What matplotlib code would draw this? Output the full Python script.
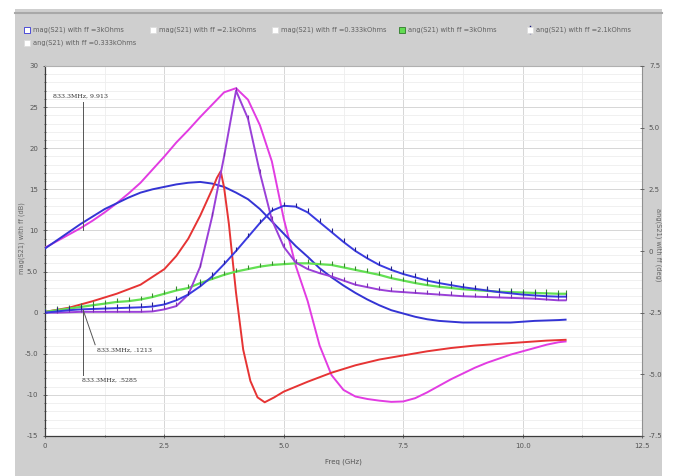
import numpy as np
import matplotlib.pyplot as plt
from matplotlib.patches import Rectangle
from matplotlib.ticker import MultipleLocator
from matplotlib.lines import Line2D

# sweep grid (GHz)
freq = [0.0, 0.25, 0.5, 0.75, 1.0, 1.25, 1.5, 1.75, 2.0, 2.25, 2.5, 2.75,
        3.0, 3.25, 3.5, 3.75, 4.0, 4.25, 4.5, 4.75, 5.0, 5.25, 5.5, 5.75,
        6.0, 6.25, 6.5, 6.75, 7.0, 7.25, 7.5, 7.75, 8.0, 8.25, 8.5, 8.75,
        9.0, 9.25, 9.5, 9.75, 10.0, 10.25, 10.5, 10.75, 10.9]

pink = [7.9, 8.7, 9.5, 10.3, 11.2, 12.2, 13.3, 14.5, 15.8, 17.4, 19.0, 20.7,
        22.2, 23.8, 25.3, 26.8, 27.3, 25.9, 22.8, 18.4, 11.4, 5.7, 1.4, -4.0,
        -7.6, -9.4, -10.2, -10.5, -10.7, -10.85, -10.8, -10.4, -9.7, -8.9, -8.1, -7.4,
        -6.7, -6.1, -5.6, -5.1, -4.7, -4.3, -3.9, -3.6, -3.5]

blue_hump = [7.8, 8.8, 9.8, 10.8, 11.7, 12.6, 13.3, 14.0, 14.6, 15.0, 15.3, 15.6,
             15.8, 15.9, 15.7, 15.3, 14.6, 13.8, 12.6, 11.1, 9.6, 8.1, 6.8, 5.4,
             4.3, 3.3, 2.4, 1.6, 0.9, 0.3, -0.1, -0.5, -0.8, -1.0, -1.1, -1.2,
             -1.2, -1.2, -1.2, -1.2, -1.1, -1.0, -0.95, -0.9, -0.85]

purple = [0.0, 0.0, 0.05, 0.1, 0.1, 0.1, 0.1, 0.1, 0.1, 0.15, 0.4, 0.8,
          2.2, 5.6, 11.7, 19.0, 27.0, 23.6, 17.0, 11.3, 8.0, 6.1, 5.3, 4.8,
          4.4, 3.9, 3.4, 3.1, 2.8, 2.6, 2.5, 2.4, 2.3, 2.2, 2.1, 2.0,
          1.95, 1.9, 1.85, 1.8, 1.75, 1.7, 1.6, 1.5, 1.5]

blue_tick = [0.0, 0.15, 0.3, 0.4, 0.45, 0.5, 0.55, 0.6, 0.65, 0.75, 1.0, 1.5,
             2.2, 3.2, 4.4, 5.9, 7.5, 9.2, 10.9, 12.4, 13.0, 12.9, 12.2, 11.0,
             9.8, 8.6, 7.5, 6.6, 5.8, 5.2, 4.7, 4.3, 3.9, 3.6, 3.35, 3.1,
             2.9, 2.7, 2.5, 2.35, 2.2, 2.1, 2.0, 1.95, 1.95]

green = [0.1, 0.3, 0.5, 0.7, 0.9, 1.1, 1.3, 1.4, 1.6, 1.9, 2.3, 2.7,
         3.0, 3.6, 4.1, 4.6, 5.0, 5.3, 5.6, 5.8, 5.9, 6.0, 6.0, 5.9,
         5.8, 5.5, 5.2, 4.9, 4.6, 4.2, 3.9, 3.6, 3.35, 3.15, 3.0, 2.85,
         2.75, 2.65, 2.55, 2.5, 2.45, 2.4, 2.35, 2.3, 2.3]

red_freq = [0.0, 0.5, 1.0, 1.5, 2.0, 2.5, 2.75, 3.0, 3.25, 3.5, 3.6, 3.68,
            3.75, 3.85, 4.0, 4.15, 4.3, 4.45, 4.6, 4.8, 5.0, 5.5, 6.0, 6.5,
            7.0, 7.5, 8.0, 8.5, 9.0, 9.5, 10.0, 10.5, 10.9]
red = [0.1, 0.6, 1.4, 2.3, 3.4, 5.3, 6.9, 9.0, 11.8, 15.0, 16.4, 17.2,
       15.2, 10.8, 2.4, -4.5, -8.3, -10.3, -10.9, -10.3, -9.6, -8.4, -7.3, -6.4,
       -5.7, -5.2, -4.7, -4.3, -4.0, -3.8, -3.6, -3.4, -3.3]

legend_labels = ["mag(S21) with ff =3kOhms", "mag(S21) with ff =2.1kOhms",
                 "mag(S21) with ff =0.333kOhms", "ang(S21) with ff =3kOhms",
                 "ang(S21) with ff =2.1kOhms", "ang(S21) with ff =0.333kOhms"]

left_ticks = [30, 25, 20, 15, 10, 5, 0, -5, -10, -15]
left_labels = ["30", "25", "20", "15", "10", "5.0", "0", "-5.0", "-10", "-15"]
right_ticks = [7.5, 5.0, 2.5, 0, -2.5, -5.0, -7.5]
right_labels = ["7.5", "5.0", "2.5", "0", "-2.5", "-5.0", "-7.5"]
x_ticks = [0, 2.5, 5.0, 7.5, 10.0, 12.5]
x_labels = ["0", "2.5", "5.0", "7.5", "10.0", "12.5"]

W, H = 677, 476
fig = plt.figure(figsize=(W / 100, H / 100), dpi=100, facecolor="white")
fig.patches.append(Rectangle((15 / W, 0), 647 / W, 1 - 9 / H, transform=fig.transFigure,
                             facecolor="#cfcfcf", edgecolor="none", zorder=-5))
fig.add_artist(Line2D([15 / W, 662 / W], [1 - 13 / H, 1 - 13 / H], color="#a8a8a8", lw=1.5))

ax = fig.add_axes([45 / W, 1 - 436 / H, 597 / W, 370 / H])
ax.set_facecolor("white")

lw = 1.4
ax.plot(freq, pink, color="#e23ce2", lw=lw, zorder=3)
ax.plot(freq, blue_hump, color="#3434d4", lw=lw, zorder=3)
ax.plot(red_freq, red, color="#e63434", lw=lw, zorder=3)
ax.plot(freq, green, color="#62e052", lw=1.6, marker=2, ms=3.2, mew=0.8,
        mec="#3a8a30", zorder=3)
ax.plot(freq, purple, color="#9a40d8", lw=lw, marker=2, ms=3.2, mew=0.8,
        mec="#7a30b0", zorder=4)
ax.plot(freq, blue_tick, color="#3a3ae0", lw=lw, marker=2, ms=3.2, mew=0.8,
        mec="#22228a", zorder=4)

ax.set_xlim(0, 12.5)
ax.set_ylim(-15, 30)
ax.set_xticks(x_ticks)
ax.set_xticklabels(x_labels)
ax.set_yticks(left_ticks)
ax.set_yticklabels(left_labels)
ax.xaxis.set_minor_locator(MultipleLocator(1.25))
ax.yaxis.set_minor_locator(MultipleLocator(1))
ax.grid(which="major", color="#d6d6d6", lw=0.7)
ax.grid(which="minor", color="#eeeeee", lw=0.6)
ax.set_axisbelow(True)
ax.tick_params(which="both", labelsize=5, colors="#555555", direction="inout", length=3, width=0.6)
ax.tick_params(which="minor", length=2)
for s in ["left", "bottom"]:
    ax.spines[s].set_color("#3c3c3c")
    ax.spines[s].set_linewidth(0.9)
ax.spines["top"].set_color("#b0b0b0")
ax.spines["right"].set_color("#909090")

ax2 = ax.twinx()
ax2.set_ylim(-7.5, 7.5)
ax2.set_yticks(right_ticks)
ax2.set_yticklabels(right_labels)
ax2.tick_params(labelsize=5, colors="#555555", direction="inout", length=3, width=0.6)
for s in ax2.spines.values():
    s.set_visible(False)

ax.set_xlabel("Freq (GHz)", fontsize=5, color="#555555", labelpad=7)
fig.text(22 / W, 1 - 238 / H, "mag(S21) with ff (dB)", rotation=90, fontsize=4.8,
         color="#666666", ha="center", va="center")
fig.text(658 / W, 1 - 245 / H, "ang(S21) with ff (deg)", rotation=270, fontsize=4.8,
         color="#666666", ha="center", va="center")

# marker readouts
serif = "DejaVu Serif"
ax.plot([0.8, 0.8], [25.6, 10.0], color="#555555", lw=0.7, zorder=5)
ax.text(0.75, 26.3, "833.3MHz, 9.913", fontsize=4.5, family=serif, color="#333333",
        ha="center", va="center", zorder=6)
ax.plot([0.8, 0.8], [0.3, -7.6], color="#555555", lw=0.7, zorder=5)
ax.plot([0.8, 1.05], [0.3, -3.9], color="#555555", lw=0.7, zorder=5)
ax.text(1.08, -4.5, "833.3MHz, .1213", fontsize=4.5, family=serif, color="#333333",
        ha="left", va="center", zorder=6)
ax.text(0.78, -8.2, "833.3MHz, .5285", fontsize=4.5, family=serif, color="#333333",
        ha="left", va="center", zorder=6)

# legend strip
leg_pos = [(27, 30), (153, 30), (275, 30), (402, 30), (530, 30), (27, 43)]
leg_face = ["white", "white", "white", "#62dc52", "white", "white"]
leg_edge = ["#3434d4", "#dddddd", "#dddddd", "#2f7a2a", "#dddddd", "#dddddd"]
for (px, py), lab, fc, ec in zip(leg_pos, legend_labels, leg_face, leg_edge):
    fig.patches.append(Rectangle(((px - 3) / W, 1 - (py + 3) / H), 6 / W, 6 / H,
                                 transform=fig.transFigure, facecolor=fc,
                                 edgecolor=ec, lw=0.6, zorder=2))
    fig.text((px + 6) / W, 1 - py / H, lab, fontsize=4.8, color="#606060",
             ha="left", va="center")
fig.add_artist(Line2D([530 / W, 530 / W], [1 - 26 / H, 1 - 33 / H], color="#1c1c80", lw=1.0))

fig.savefig("out.png", dpi=100, facecolor=fig.get_facecolor())
